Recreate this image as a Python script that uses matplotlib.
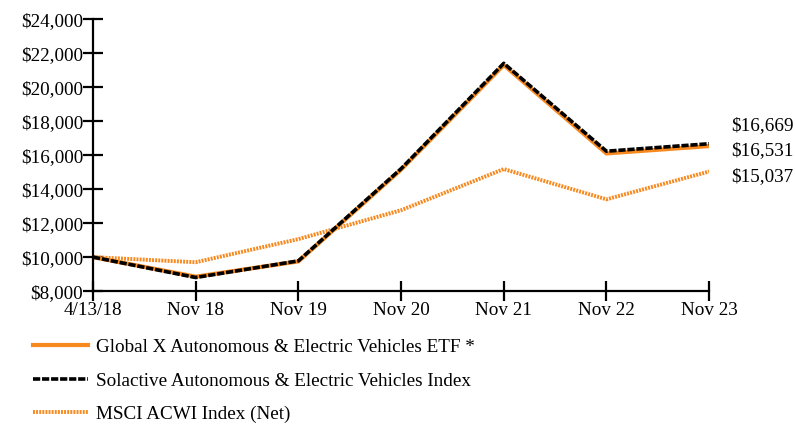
import matplotlib
matplotlib.use("Agg")
import matplotlib.pyplot as plt
from matplotlib.lines import Line2D
import matplotlib.transforms as mtransforms

categories = ["4/13/18", "Nov 18", "Nov 19", "Nov 20", "Nov 21", "Nov 22", "Nov 23"]
etf = [10000, 8850, 9750, 15150, 21300, 16100, 16531]
index_vals = [10000, 8800, 9780, 15200, 21400, 16230, 16669]
msci = [10000, 9700, 11060, 12760, 15180, 13400, 15037]
end_labels = ["$16,669", "$16,531", "$15,037"]
series_names = ["Global X Autonomous & Electric Vehicles ETF *",
                "Solactive Autonomous & Electric Vehicles Index",
                "MSCI ACWI Index (Net)"]
yticks = list(range(8000, 24001, 2000))

plt.rcParams['font.family'] = ['Liberation Serif', 'DejaVu Serif']
orange = '#F7891F'
fs = 13.8
dash_idx = (0, (2.0, 0.5))
dot_msci = (0, (0.5, 0.3))

fig = plt.figure(figsize=(7.95, 4.25), dpi=100)
ax = fig.add_axes([0.117, 0.315, 0.775, 0.640])
x = list(range(len(categories)))

ax.plot(x, msci, color=orange, lw=2.8, linestyle=dot_msci, solid_capstyle='butt')
ax.plot(x, etf, color=orange, lw=3, solid_joinstyle='miter')
ax.plot(x, index_vals, color='black', lw=2.6, linestyle=dash_idx)

ax.set_xlim(0, len(categories) - 1)
ax.set_ylim(8000, 24000)
ax.set_xticks(x)
ax.set_xticklabels(categories)
ax.set_yticks(yticks)
ax.set_yticklabels([f"${v:,}" for v in yticks])
for s in ['top', 'right']:
    ax.spines[s].set_visible(False)
for s in ['left', 'bottom']:
    ax.spines[s].set_linewidth(1.6)
ax.tick_params(axis='both', direction='inout', length=14, width=1.6, labelsize=fs, colors='black')
ax.tick_params(axis='x', pad=1)
ax.tick_params(axis='y', pad=0)

trans = mtransforms.blended_transform_factory(ax.transAxes, ax.transData)
label_y = [17760, 16240, 14760]
for t, yy in zip(end_labels, label_y):
    ax.text(1.035, yy, t, transform=trans, fontsize=fs, va='center', ha='left')

handles = [
    Line2D([], [], color=orange, lw=3),
    Line2D([], [], color='black', lw=2.6, linestyle=dash_idx),
    Line2D([], [], color=orange, lw=2.8, linestyle=dot_msci),
]
fig.legend(handles, series_names, loc='upper left', bbox_to_anchor=(0.0415, 0.203),
           frameon=False, fontsize=fs, handlelength=2.87, handletextpad=0.42,
           labelspacing=0.84, borderaxespad=0, borderpad=0)

fig.savefig("out.png", dpi=100)
